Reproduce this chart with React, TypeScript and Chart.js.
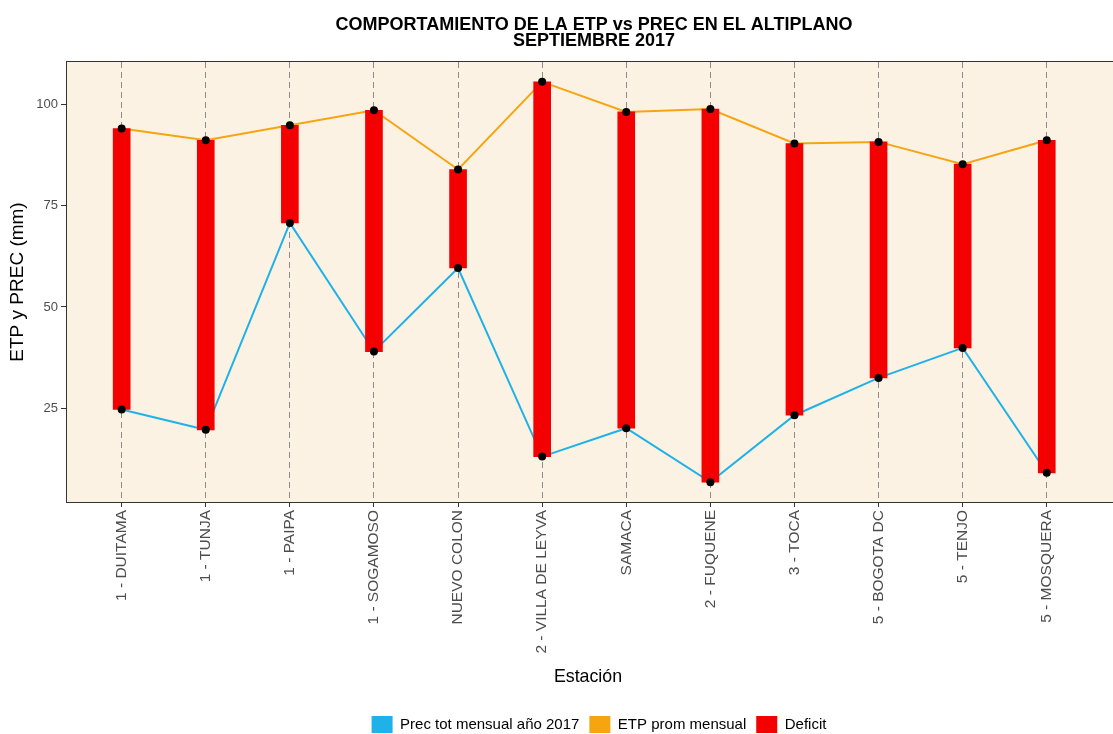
import React, { useEffect, useRef } from "react";
import { Chart, registerables } from "chart.js";

Chart.register(...registerables);

const stations: string[] = [
  "1 - DUITAMA",
  "1 - TUNJA",
  "1 - PAIPA",
  "1 - SOGAMOSO",
  "NUEVO COLON",
  "2 - VILLA DE LEYVA",
  "SAMACA",
  "2 - FUQUENE",
  "3 - TOCA",
  "5 - BOGOTA DC",
  "5 - TENJO",
  "5 - MOSQUERA",
];

const precValues: number[] = [24.7, 19.7, 70.7, 39.0, 59.6, 13.1, 20.1, 6.8, 23.3, 32.5, 39.9, 9.1];
const etpValues: number[] = [94.0, 91.1, 94.8, 98.5, 83.9, 105.5, 98.1, 98.8, 90.3, 90.7, 85.2, 91.1];

const yTickValues: number[] = [25, 50, 75, 100];

const titleLines: string[] = ["COMPORTAMIENTO DE LA ETP vs PREC EN EL ALTIPLANO", "SEPTIEMBRE 2017"];
const legendLabels: string[] = ["Prec tot mensual año 2017", "ETP prom mensual", "Deficit"];

const BLUE = "#1FB2E8";
const ORANGE = "#F6A511";
const RED = "#F40000";
const PANEL = "#FCF2E4";
const FONT = "'Liberation Sans', Arial, sans-serif";

const panelPlugin = {
  id: "panelPlugin",
  beforeDraw(chart: any) {
    const { ctx, chartArea } = chart;
    ctx.save();
    ctx.fillStyle = PANEL;
    ctx.fillRect(chartArea.left, chartArea.top, chart.width - chartArea.left, chartArea.bottom - chartArea.top);
    ctx.restore();
  },
  afterDraw(chart: any) {
    const { ctx, chartArea } = chart;
    ctx.save();
    ctx.strokeStyle = "#333333";
    ctx.lineWidth = 1;
    ctx.strokeRect(
      Math.round(chartArea.left) - 0.5,
      Math.round(chartArea.top) - 0.5,
      chart.width - chartArea.left + 20,
      Math.round(chartArea.bottom - chartArea.top) + 1
    );
    ctx.restore();
  },
  afterLayout(chart: any) {
    if (chart.legend) {
      chart.legend.top += 9;
      chart.legend.bottom += 9;
      chart.legend.left += 11;
      chart.legend.right += 11;
    }
    if (chart.titleBlock) {
      chart.titleBlock.left += 6;
      chart.titleBlock.right += 6;
    }
  },
};

export default function App() {
  const canvasRef = useRef<HTMLCanvasElement | null>(null);

  useEffect(() => {
    if (!canvasRef.current) return;
    Chart.defaults.font.family = FONT;
    const idx = stations.map((_, i) => i);
    const precData = idx.map((i) => ({ x: i, y: precValues[i] }));
    const etpData = idx.map((i) => ({ x: i, y: etpValues[i] }));
    const deficitData = idx.map((i) => ({ x: i, y: [precValues[i], etpValues[i]] }));

    const chart = new Chart(canvasRef.current, {
      type: "bar",
      data: {
        datasets: [
          {
            type: "line",
            label: legendLabels[0],
            data: precData,
            borderColor: BLUE,
            borderWidth: 2,
            pointRadius: 0,
            fill: false,
            order: 3,
          } as any,
          {
            type: "line",
            label: legendLabels[1],
            data: etpData,
            borderColor: ORANGE,
            borderWidth: 2,
            pointRadius: 0,
            fill: false,
            order: 3,
          } as any,
          {
            type: "bar",
            label: legendLabels[2],
            data: deficitData,
            backgroundColor: RED,
            borderWidth: 0,
            barThickness: 17,
            order: 2,
          } as any,
          {
            type: "line",
            label: "prec-points",
            data: precData,
            showLine: false,
            pointRadius: 4,
            pointBackgroundColor: "#000",
            pointBorderWidth: 0,
            order: 1,
          } as any,
          {
            type: "line",
            label: "etp-points",
            data: etpData,
            showLine: false,
            pointRadius: 4,
            pointBackgroundColor: "#000",
            pointBorderWidth: 0,
            order: 1,
          } as any,
        ],
      },
      options: {
        responsive: false,
        devicePixelRatio: 1,
        animation: false,
        events: [],
        layout: { padding: 0 },
        scales: {
          x: {
            type: "linear",
            min: -0.65,
            max: 11.74,
            offset: false,
            afterBuildTicks: (scale: any) => {
              scale.ticks = stations.map((_, i) => ({ value: i }));
            },
            afterFit: (scale: any) => {
              scale.height = 195;
            },
            ticks: {
              autoSkip: false,
              minRotation: 90,
              maxRotation: 90,
              padding: 3,
              color: "#4D4D4D",
              font: { size: 15.5, family: FONT },
              callback: (v: any) => stations[Math.round(Number(v))] ?? "",
            },
            grid: {
              offset: false,
              color: "#8C8C8C",
              lineWidth: 1,
              drawOnChartArea: true,
              drawTicks: true,
              tickLength: 5,
              tickColor: "#333333",
              tickBorderDash: [],
            },
            border: { display: false, dash: [6, 4] },
            title: {
              display: true,
              text: "Estación",
              color: "#000",
              font: { size: 17.8, family: FONT },
              padding: { top: 2, bottom: 9 },
            },
          },
          y: {
            type: "linear",
            min: 1.9,
            max: 110.4,
            afterBuildTicks: (scale: any) => {
              scale.ticks = yTickValues.map((v) => ({ value: v }));
            },
            afterFit: (scale: any) => {
              scale.width = 67;
            },
            ticks: {
              padding: 3,
              color: "#4D4D4D",
              font: { size: 13, family: FONT },
            },
            grid: {
              drawOnChartArea: false,
              drawTicks: true,
              tickLength: 6,
              tickColor: "#333333",
            },
            border: { display: false },
            title: {
              display: true,
              text: "ETP y PREC (mm)",
              color: "#000",
              font: { size: 19, family: FONT },
              padding: { top: 6, bottom: 0 },
            },
          },
        },
        plugins: {
          tooltip: { enabled: false },
          title: {
            display: true,
            text: titleLines,
            fullSize: false,
            color: "#000",
            font: { size: 18, weight: "bold", family: FONT, lineHeight: 0.875 },
            padding: { top: 17.5, bottom: 13 },
          },
          legend: {
            display: true,
            position: "bottom",
            fullSize: false,
            onClick: () => {},
            labels: {
              color: "#000",
              font: { size: 15, family: FONT },
              boxWidth: 21,
              boxHeight: 17,
              padding: 10,
              generateLabels: () =>
                [BLUE, ORANGE, RED].map((c, i) => ({
                  text: legendLabels[i],
                  fillStyle: c,
                  strokeStyle: c,
                  lineWidth: 0,
                  hidden: false,
                  datasetIndex: i,
                  fontColor: "#000",
                })) as any,
            },
          },
        },
      } as any,
      plugins: [panelPlugin],
    });

    return () => {
      chart.destroy();
    };
  }, []);

  return (
    <div style={{ position: "fixed", left: 0, top: 0, width: 1113, height: 734, background: "#ffffff" }}>
      <canvas ref={canvasRef} width={1113} height={734} style={{ display: "block" }} />
    </div>
  );
}
